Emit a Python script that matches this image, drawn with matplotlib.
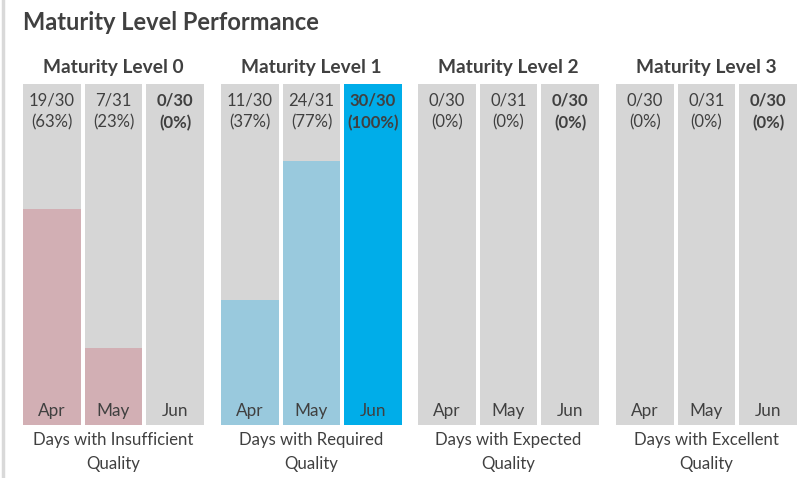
import matplotlib
matplotlib.use("Agg")
import matplotlib.pyplot as plt
from matplotlib.lines import Line2D

plt.rcParams['font.family'] = ['Lato', 'DejaVu Sans']

title = "Maturity Level Performance"
levels = ["Maturity Level 0", "Maturity Level 1", "Maturity Level 2", "Maturity Level 3"]
months = ["Apr", "May", "Jun"]
days_total = [30, 31, 30]
days_met = [
    [19, 7, 0],
    [11, 24, 30],
    [0, 0, 0],
    [0, 0, 0],
]
bottom_labels = [
    "Days with Insufficient\nQuality",
    "Days with Required\nQuality",
    "Days with Expected\nQuality",
    "Days with Excellent\nQuality",
]
current_month = "Jun"

bg_color = "#D6D6D6"
fill_colors = ["#D2AFB4", "#99C9DD", "#99C9DD", "#99C9DD"]
full_color = "#00ADE9"
text_color = "#404040"

W, H = 798, 478
fig = plt.figure(figsize=(W / 100, H / 100), dpi=100)

panel_left = [23, 221, 418, 616]
panel_w = 181
bar_top, bar_bottom = 84, 425
bar_w = 0.943
half = bar_w / 2

for i, lvl in enumerate(levels):
    ax = fig.add_axes([panel_left[i] / W, 1 - bar_bottom / H, panel_w / W, (bar_bottom - bar_top) / H])
    ax.set_xlim(-half, 2 + half)
    ax.set_ylim(0, 1)
    ax.axis('off')
    x = list(range(len(months)))
    ax.bar(x, [1] * len(months), width=bar_w, color=bg_color, linewidth=0)
    fracs = [m / t for m, t in zip(days_met[i], days_total)]
    cols = [full_color if f >= 1 else fill_colors[i] for f in fracs]
    ax.bar(x, fracs, width=bar_w, color=cols, linewidth=0)
    for j, mon in enumerate(months):
        fw = 'bold' if mon == current_month else 'normal'
        ax.text(j, 0.953, f"{days_met[i][j]}/{days_total[j]}", ha='center', va='center',
                fontsize=12, color=text_color, fontweight=fw)
        ax.text(j, 0.886, f"({round(fracs[j] * 100)}%)", ha='center', va='center',
                fontsize=12, color=text_color, fontweight=fw)
        ax.text(j, 0.041, mon, ha='center', va='center', fontsize=12.3, color=text_color)
    ax.text(0.5, 1.047, lvl, transform=ax.transAxes, ha='center', va='center',
            fontsize=13.8, fontweight='bold', color=text_color)
    for k, line in enumerate(bottom_labels[i].split("\n")):
        ax.text(0.5, -0.044 - 0.07 * k, line, transform=ax.transAxes, ha='center', va='center',
                fontsize=12.1, color=text_color, clip_on=False)

fig.text(23 / W, 1 - 22 / H, title, ha='left', va='center', fontsize=17,
         fontweight='bold', color=text_color)
fig.add_artist(Line2D([2.5 / W, 2.5 / W], [0, 1], transform=fig.transFigure,
                      color="#D9D9D9", linewidth=2.5))

fig.savefig("out.png", dpi=100)
